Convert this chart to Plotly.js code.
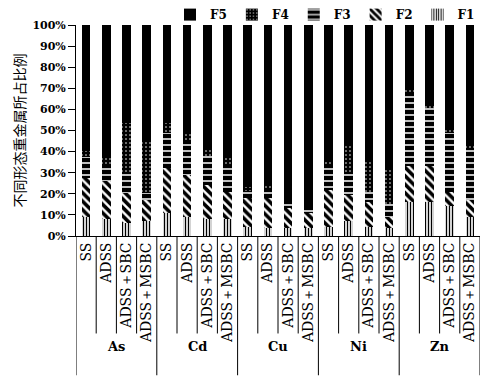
<!DOCTYPE html>
<html>
<head>
<meta charset="utf-8">
<script src="https://cdn.plot.ly/plotly-3.0.1.min.js"></script>
<style>html,body{margin:0;padding:0;background:#fff;}#chart{width:480px;height:376px;}</style>
</head>
<body>
<div id="chart"></div>
<script>
// Groups (metals) and treatments
var metals = ["As", "Cd", "Cu", "Ni", "Zn"];
var treatments = ["SS", "ADSS", "ADSS\uFF0BSBC", "ADSS\uFF0BMSBC"];

// Fraction percentages, per metal in order SS, ADSS, ADSS+SBC, ADSS+MSBC
var F1 = [9, 8, 6, 7,      11, 9, 8, 8,       4.5, 4, 4, 4,      4.5, 7, 4.5, 4,      16, 16, 14, 9];
var F2 = [18.5, 18, 14.5, 10, 21, 20, 16, 13,  13.5, 14, 9.5, 7,  17.5, 12.5, 11.5, 5, 17, 17, 7, 8];
var F3 = [10, 7, 9.5, 3.5,  17, 16.5, 14, 13,  3.5, 4.5, 2.5, 3,  11, 11, 5, 6,       35, 27.5, 28, 24];
var F4 = [3, 4, 23.5, 25,   4.5, 3, 3, 3,      1.5, 1.5, 1, 1,    3, 12, 14, 16.5,     2, 2, 2, 2];
var F5 = [59.5, 63, 46.5, 54.5, 46.5, 51.5, 59, 63, 77, 76, 83, 85, 64, 57.5, 65, 68.5, 30, 37.5, 49, 57];

var seriesNames = ["F1", "F2", "F3", "F4", "F5"];
var seriesVals = [F1, F2, F3, F4, F5];

var xCats = [];
metals.forEach(function (m) {
  treatments.forEach(function (t) { xCats.push(t); });
});
var xIdx = xCats.map(function (_, i) { return i; });

var patterns = {
  F1: {shape: "|", fgcolor: "#000", bgcolor: "#fff", size: 3, solidity: 0.45},
  F2: {shape: "\\", fgcolor: "#000", bgcolor: "#fff", size: 6, solidity: 0.6},
  F3: {shape: "-", fgcolor: "#000", bgcolor: "#fff", size: 6, solidity: 0.75},
  F4: {shape: ".", fgcolor: "#fff", bgcolor: "#000", size: 4, solidity: 0.12},
  F5: null
};

var traces = seriesNames.map(function (name, k) {
  var marker = {color: "#000", line: {width: 0}};
  if (patterns[name]) marker.pattern = patterns[name];
  return {
    type: "bar",
    name: name,
    x: xIdx,
    y: seriesVals[k],
    marker: marker,
    hoverinfo: "name+y"
  };
});

var nPer = treatments.length;
var n = xCats.length;
var shapes = [];
for (var i = 0; i <= n; i++) {
  var isGroup = (i % nPer === 0);
  shapes.push({type: "line", xref: "x", yref: "paper",
    x0: i - 0.5, x1: i - 0.5, y0: 0, y1: isGroup ? -0.66 : -0.462,
    line: {color: "#000", width: 1}});
}
var annotations = metals.map(function (m, g) {
  return {text: m, xref: "x", yref: "paper", x: g * nPer + (nPer - 1) / 2, y: -0.526,
    showarrow: false, xanchor: "center", yanchor: "middle",
    font: {size: 13, family: "DejaVu Serif", weight: "bold", color: "#000"}};
});

var layout = {
  width: 480, height: 376,
  margin: {l: 76, r: 0, t: 24.5, b: 139.5, pad: 0},
  paper_bgcolor: "#fff", plot_bgcolor: "#fff",
  barmode: "stack",
  bargap: 0.58,
  font: {family: "DejaVu Serif, Liberation Serif, serif", color: "#000", size: 12},
  showlegend: true,
  legend: {orientation: "h", x: 1.0, xanchor: "right", y: 1.118, yanchor: "top",
    traceorder: "reversed", font: {size: 12, family: "DejaVu Serif", weight: "bold"},
    itemwidth: 30, bgcolor: "rgba(0,0,0,0)", borderwidth: 0},
  xaxis: {
    range: [-0.5, n - 0.5],
    tickmode: "array", tickvals: xIdx, ticktext: xCats,
    tickangle: -90,
    showline: true, linecolor: "#000", linewidth: 1,
    ticks: "",
    tickfont: {size: 14, family: "DejaVu Serif"},
    showgrid: false, zeroline: false
  },
  yaxis: {
    range: [0, 100], dtick: 10, ticksuffix: "%",
    showline: true, linecolor: "#000", linewidth: 1,
    ticks: "outside", ticklen: 7, tickcolor: "#000",
    tickfont: {size: 11, family: "DejaVu Serif", weight: "bold"},
    showgrid: false, zeroline: false,
    title: {text: "不同形态重金属所占比例", font: {size: 14, family: "Noto Sans CJK SC"}, standoff: 3}
  },
  shapes: shapes,
  annotations: annotations
};

Plotly.newPlot("chart", traces, layout, {staticPlot: true, displayModeBar: false});
</script>
</body>
</html>
